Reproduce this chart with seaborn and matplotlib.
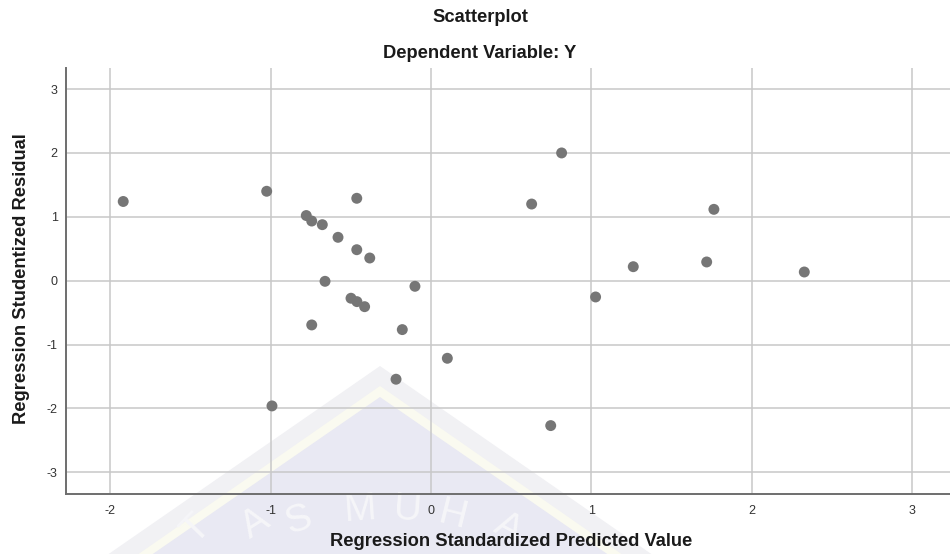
import numpy as np
import pandas as pd
import matplotlib
matplotlib.use("Agg")
import matplotlib.pyplot as plt
from matplotlib.patches import Polygon
import seaborn as sns

# Standardized predicted values and studentized residuals per case
pred_std = [-1.92, -1.025, -0.463, -0.778, -0.744, -0.678, -0.580, -0.463, -0.382,
            -0.661, -0.499, -0.462, -0.414, -0.100, -0.744, -0.179, 0.102, -0.218,
            -0.992, 0.815, 0.628, 1.765, 1.262, 1.720, 2.329, 1.027, 0.747]
resid_stud = [1.24, 1.40, 1.29, 1.02, 0.934, 0.877, 0.679, 0.485, 0.355,
              -0.01, -0.275, -0.328, -0.407, -0.088, -0.693, -0.766, -1.215, -1.543,
              -1.961, 2.00, 1.20, 1.117, 0.219, 0.293, 0.136, -0.255, -2.269]
x_ticks = [-2, -1, 0, 1, 2, 3]
y_ticks = [-3, -2, -1, 0, 1, 2, 3]

df = pd.DataFrame({"pred": pred_std, "resid": resid_stud})

sns.set_style("white")
plt.rcParams["font.family"] = ["Liberation Sans", "DejaVu Sans"]

W, H = 950, 554
fig = plt.figure(figsize=(W / 100, H / 100), dpi=100)
ax = fig.add_axes([66 / W, 1 - 494 / H, 1 - 66 / W, (494 - 68) / H])
ax.set_facecolor("none")

# Faint emblem behind the plot (figure pixel coordinates, y measured from top)
def fpts(pts):
    return [(x / W, 1 - y / H) for x, y in pts]

outer = Polygon(fpts([(380, 366), (660, 560), (100, 560)]), closed=True,
                transform=fig.transFigure, facecolor="#f1f1f4", edgecolor="none", zorder=-3)
stripe = Polygon(fpts([(380, 386), (630, 560), (130, 560)]), closed=True,
                 transform=fig.transFigure, facecolor="#fafaf0", edgecolor="none", zorder=-2)
inner = Polygon(fpts([(380, 397), (616, 560), (144, 560)]), closed=True,
                transform=fig.transFigure, facecolor="#e9e9f3", edgecolor="none", zorder=-1)
for p in (outer, stripe, inner):
    fig.patches.append(p)

for ch, x, y, rot in [("T", 196, 530, 46), ("A", 256, 524, 32), ("S", 298, 520, 18),
                      ("M", 360, 510, 4), ("U", 408, 510, -4), ("H", 453, 516, -14),
                      ("A", 508, 528, -28)]:
    fig.text(x / W, 1 - y / H, ch, fontsize=28, color="#f6f6f9", rotation=rot,
             ha="center", va="center", zorder=-0.5)

sns.scatterplot(data=df, x="pred", y="resid", ax=ax, s=62, color="#767676",
                edgecolor="none", linewidth=0, zorder=3)

ax.set_xlim(-2.277, 3.238)
ax.set_ylim(-3.34, 3.33)
ax.set_xticks(x_ticks)
ax.set_yticks(y_ticks)
ax.set_xticklabels([str(v) for v in x_ticks])
ax.set_yticklabels([str(v) for v in y_ticks])
ax.grid(True, color="#c8c8c8", linewidth=1.1)
ax.set_axisbelow(True)
ax.tick_params(axis="both", length=0, labelsize=9, colors="#333333")
ax.tick_params(axis="x", pad=8)
ax.tick_params(axis="y", pad=6)

for side in ("top", "right"):
    ax.spines[side].set_visible(False)
for side in ("left", "bottom"):
    ax.spines[side].set_color("#6e6e6e")
    ax.spines[side].set_linewidth(1.4)

ax.set_xlabel("")
ax.set_ylabel("")
fig.text(511 / W, 1 - 541 / H, "Regression Standardized Predicted Value",
         ha="center", va="center", fontsize=13.2, fontweight="bold", color="#1a1a1a")
fig.text(22 / W, 1 - 279 / H, "Regression Studentized Residual", rotation=90,
         ha="center", va="center", fontsize=13.2, fontweight="bold", color="#1a1a1a")

fig.text(480 / W, 1 - 18 / H, "Scatterplot", ha="center", va="center",
         fontsize=13.2, fontweight="bold", color="#1a1a1a")
fig.text(480 / W, 1 - 53 / H, "Dependent Variable: Y", ha="center", va="center",
         fontsize=13.2, fontweight="bold", color="#1a1a1a")

fig.savefig("out.png", dpi=100, facecolor="white")
